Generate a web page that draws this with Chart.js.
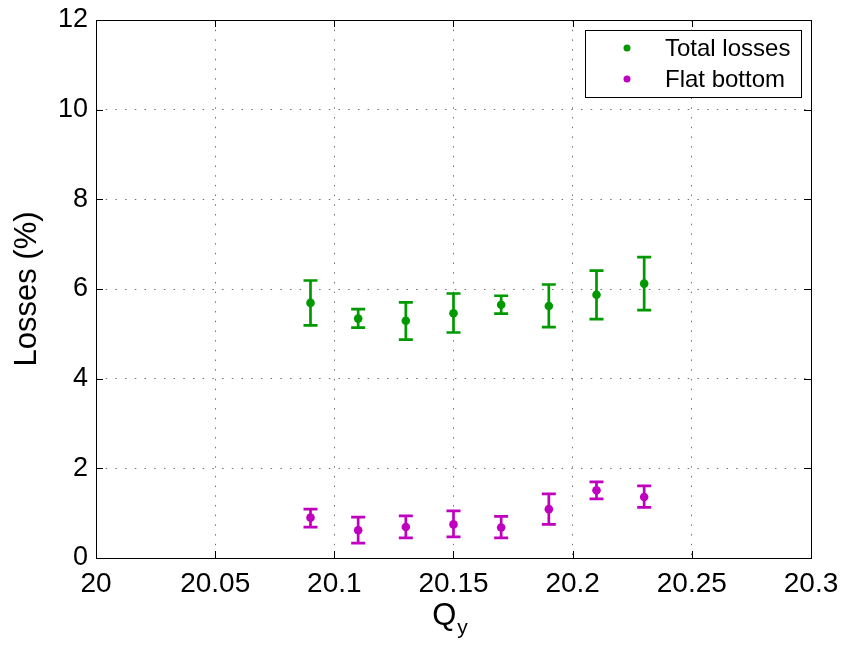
<!DOCTYPE html>
<html>
<head>
<meta charset="utf-8">
<script src="https://cdn.jsdelivr.net/npm/chart.js@4"></script>
<style>
  html, body { margin: 0; padding: 0; background: #fff; }
  #wrap { width: 842px; height: 645px; }
</style>
</head>
<body>
<div id="wrap"><canvas id="c" width="842" height="645"></canvas></div>
<script>
// ---- data ----
const qy = [20.09, 20.11, 20.13, 20.15, 20.17, 20.19, 20.21, 20.23];
const totalLosses = [5.69, 5.34, 5.29, 5.46, 5.65, 5.62, 5.87, 6.12];
const totalLow    = [5.19, 5.14, 4.87, 5.03, 5.45, 5.15, 5.33, 5.53];
const totalHigh   = [6.19, 5.55, 5.70, 5.90, 5.85, 6.10, 6.41, 6.71];
const flatBottom  = [0.90, 0.62, 0.69, 0.75, 0.68, 1.09, 1.51, 1.36];
const flatLow     = [0.69, 0.33, 0.45, 0.47, 0.45, 0.75, 1.32, 1.13];
const flatHigh    = [1.09, 0.91, 0.94, 1.05, 0.93, 1.43, 1.70, 1.61];
const xTicks = [20, 20.05, 20.1, 20.15, 20.2, 20.25, 20.3];
const yTicks = [0, 2, 4, 6, 8, 10, 12];
const seriesNames = ['Total losses', 'Flat bottom'];
const seriesColors = ['#009900', '#bf00bf'];

const FONT = '"Liberation Sans", Arial, Helvetica, sans-serif';

const toPts = (xs, ys) => xs.map((x, i) => ({ x: x, y: ys[i] }));

const errorBars = {
  id: 'errorBars',
  afterDatasetsDraw(chart) {
    const ctx = chart.ctx;
    const ys = chart.scales.y;
    const lows = [totalLow, flatLow];
    const highs = [totalHigh, flatHigh];
    chart.data.datasets.forEach((ds, di) => {
      const meta = chart.getDatasetMeta(di);
      ctx.save();
      ctx.strokeStyle = seriesColors[di];
      ctx.lineWidth = 2.7;
      ctx.lineCap = 'butt';
      meta.data.forEach((el, i) => {
        const x = el.x;
        const y1 = ys.getPixelForValue(lows[di][i]);
        const y2 = ys.getPixelForValue(highs[di][i]);
        const hw = 7;
        ctx.beginPath();
        ctx.moveTo(x, y1); ctx.lineTo(x, y2);
        ctx.moveTo(x - hw, y1); ctx.lineTo(x + hw, y1);
        ctx.moveTo(x - hw, y2); ctx.lineTo(x + hw, y2);
        ctx.stroke();
      });
      ctx.restore();
    });
  }
};

const frame = {
  id: 'frame',
  afterDraw(chart) {
    const ctx = chart.ctx;
    const a = chart.chartArea;
    const xs = chart.scales.x, ys = chart.scales.y;
    ctx.save();
    ctx.strokeStyle = '#000';
    ctx.lineWidth = 1;
    ctx.strokeRect(Math.round(a.left) + 0.5, Math.round(a.top) + 0.5, Math.round(a.right - a.left), Math.round(a.bottom - a.top));
    // inward ticks
    const tl = 7;
    ctx.beginPath();
    xTicks.forEach(v => {
      const px = Math.round(xs.getPixelForValue(v)) + 0.5;
      ctx.moveTo(px, a.bottom); ctx.lineTo(px, a.bottom - tl);
      ctx.moveTo(px, a.top); ctx.lineTo(px, a.top + tl);
    });
    yTicks.forEach(v => {
      const py = Math.round(ys.getPixelForValue(v)) + 0.5;
      ctx.moveTo(a.left, py); ctx.lineTo(a.left + tl, py);
      ctx.moveTo(a.right, py); ctx.lineTo(a.right - tl, py);
    });
    ctx.stroke();

    // axis titles
    ctx.fillStyle = '#000';
    ctx.font = '31px ' + FONT;
    ctx.textAlign = 'center';
    ctx.textBaseline = 'middle';
    ctx.save();
    ctx.translate(27, (a.top + a.bottom) / 2);
    ctx.rotate(-Math.PI / 2);
    ctx.fillText('Losses (%)', 0, 0);
    ctx.restore();

    ctx.textBaseline = 'alphabetic';
    ctx.textAlign = 'left';
    ctx.font = '31px ' + FONT;
    const qW = ctx.measureText('Q').width;
    ctx.font = '21px ' + FONT;
    const yW = ctx.measureText('y').width;
    const cx = (a.left + a.right) / 2 - 4;
    const startX = cx - (qW + yW) / 2;
    ctx.font = '31px ' + FONT;
    ctx.fillText('Q', startX, 625);
    ctx.font = '21px ' + FONT;
    ctx.fillText('y', startX + qW + 1, 634);

    // legend
    const lx = 585.5, ly = 30.5, lw = 216, lh = 67;
    ctx.fillStyle = '#fff';
    ctx.fillRect(lx, ly, lw, lh);
    ctx.strokeStyle = '#000';
    ctx.lineWidth = 1;
    ctx.strokeRect(lx, ly, lw, lh);
    ctx.font = '24px ' + FONT;
    ctx.textBaseline = 'middle';
    ctx.textAlign = 'left';
    seriesNames.forEach((name, i) => {
      const yy = 48 + i * 31;
      ctx.fillStyle = seriesColors[i];
      ctx.beginPath();
      ctx.arc(627, yy, 3.5, 0, Math.PI * 2);
      ctx.fill();
      ctx.fillStyle = '#000';
      ctx.fillText(name, 665, yy + 1);
    });
    ctx.restore();
  }
};

const fmt = v => String(Math.round(v * 100) / 100);

new Chart(document.getElementById('c'), {
  type: 'scatter',
  data: {
    datasets: [
      { label: seriesNames[0], data: toPts(qy, totalLosses), backgroundColor: seriesColors[0], borderColor: seriesColors[0], pointRadius: 4.3, pointHoverRadius: 4.3, borderWidth: 0 },
      { label: seriesNames[1], data: toPts(qy, flatBottom), backgroundColor: seriesColors[1], borderColor: seriesColors[1], pointRadius: 4.3, pointHoverRadius: 4.3, borderWidth: 0 }
    ]
  },
  options: {
    responsive: false,
    devicePixelRatio: 1,
    animation: false,
    events: [],
    layout: { padding: { top: 20, right: 31, left: 0, bottom: 0 } },
    plugins: { legend: { display: false }, tooltip: { enabled: false } },
    scales: {
      x: {
        type: 'linear', min: 20, max: 20.3,
        afterBuildTicks: s => { s.ticks = xTicks.map(v => ({ value: v })); },
        afterFit: s => { s.height = 87; s.paddingLeft = 0; s.paddingRight = 0; },
        grid: { color: 'rgba(0,0,0,0.55)', lineWidth: 1, drawTicks: false },
        border: { display: false, dash: [1.5, 8.2] },
        ticks: { color: '#000', font: { family: FONT, size: 28 }, padding: 9, maxRotation: 0, autoSkip: false, callback: v => fmt(v) }
      },
      y: {
        type: 'linear', min: 0, max: 12,
        afterBuildTicks: s => { s.ticks = yTicks.map(v => ({ value: v })); },
        afterFit: s => { s.width = 96; s.paddingTop = 0; s.paddingBottom = 0; },
        grid: { color: 'rgba(0,0,0,0.55)', lineWidth: 1, drawTicks: false },
        border: { display: false, dash: [1.5, 8.2] },
        ticks: { color: '#000', font: { family: FONT, size: 27 }, padding: 8, autoSkip: false, callback: v => fmt(v) }
      }
    }
  },
  plugins: [errorBars, frame]
});
</script>
</body>
</html>
